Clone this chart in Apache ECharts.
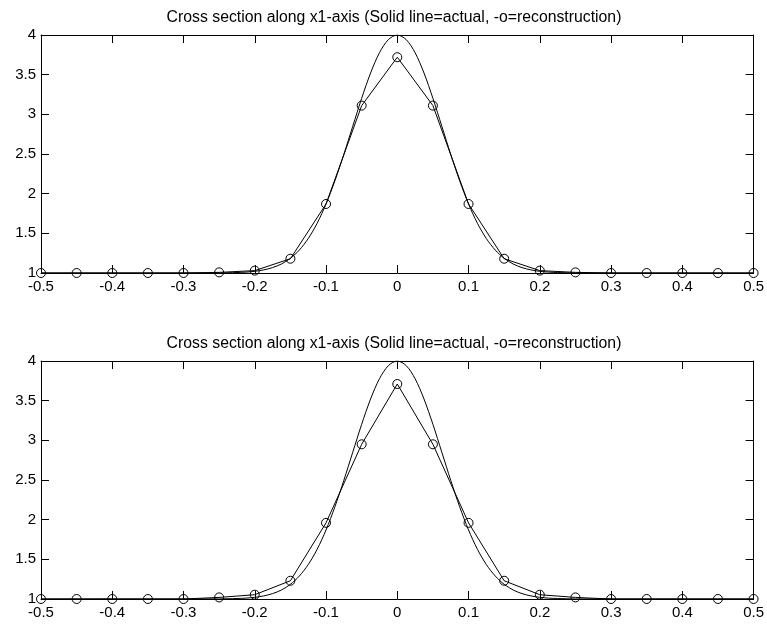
<!DOCTYPE html>
<html>
<head>
<meta charset="utf-8">
<script src="https://cdn.jsdelivr.net/npm/echarts@6/dist/echarts.min.js"></script>
<style>
  html, body { margin: 0; padding: 0; background: #fff; }
  #main { width: 767px; height: 624px; }
</style>
</head>
<body>
<div id="main"></div>
<script>
// chart title (same for both panels)
var titleText = 'Cross section along x1-axis (Solid line=actual, -o=reconstruction)';

// sample points of the reconstruction (-o)
var xRecon = [-0.5, -0.45, -0.4, -0.35, -0.3, -0.25, -0.2, -0.15, -0.1, -0.05, 0,
              0.05, 0.1, 0.15, 0.2, 0.25, 0.3, 0.35, 0.4, 0.45, 0.5];
var reconTop = [1, 1, 1, 1, 1, 1.008, 1.03, 1.18, 1.87, 3.11, 3.72,
                3.11, 1.87, 1.18, 1.03, 1.008, 1, 1, 1, 1, 1];
var reconBottom = [1, 1, 1, 1, 1, 1.02, 1.054, 1.23, 1.96, 2.95, 3.71,
                   2.95, 1.96, 1.23, 1.054, 1.02, 1, 1, 1, 1, 1];

// actual profile (solid line)
var xActual = [-0.5, -0.25, -0.2375, -0.225, -0.2125, -0.2, -0.1875, -0.175, -0.1625, -0.15,
               -0.1375, -0.125, -0.1125, -0.1, -0.0875, -0.075, -0.0625, -0.05, -0.0375, -0.025,
               -0.0125, 0, 0.0125, 0.025, 0.0375, 0.05, 0.0625, 0.075, 0.0875, 0.1,
               0.1125, 0.125, 0.1375, 0.15, 0.1625, 0.175, 0.1875, 0.2, 0.2125, 0.225,
               0.2375, 0.25, 0.5];
var actual = [1, 1.001, 1.003, 1.006, 1.011, 1.021, 1.039, 1.068, 1.114, 1.185,
              1.289, 1.434, 1.626, 1.87, 2.163, 2.496, 2.85, 3.202, 3.521, 3.777,
              3.942, 4, 3.942, 3.777, 3.521, 3.202, 2.85, 2.496, 2.163, 1.87,
              1.626, 1.434, 1.289, 1.185, 1.114, 1.068, 1.039, 1.021, 1.011, 1.006,
              1.003, 1.001, 1];

var chartDom = document.getElementById('main');
var myChart = echarts.init(chartDom);
var font = '"Liberation Sans", Arial, Helvetica, sans-serif';

function pairs(xs, ys) {
    return xs.map(function (x, i) { return [x, ys[i]]; });
}

function xAxisFor(gridIndex, pos, labels) {
    return {
        type: 'value', gridIndex: gridIndex, position: pos,
        min: -0.5, max: 0.5, interval: 0.1,
        axisLine: { show: true, onZero: false, lineStyle: { color: '#000', width: 1 } },
        axisTick: { show: true, inside: true, length: 8, lineStyle: { color: '#000' } },
        axisLabel: {
            show: labels, margin: 6, color: '#000', fontSize: 15, fontFamily: font,
            formatter: function (v) { return String(+v.toFixed(1)); }
        },
        splitLine: { show: false }
    };
}

function yAxisFor(gridIndex, pos, labels) {
    return {
        type: 'value', gridIndex: gridIndex, position: pos,
        min: 1, max: 4, interval: 0.5,
        axisLine: { show: true, onZero: false, lineStyle: { color: '#000', width: 1 } },
        axisTick: { show: true, inside: true, length: 8, lineStyle: { color: '#000' } },
        axisLabel: {
            show: labels, margin: 5, color: '#000', fontSize: 15, fontFamily: font,
            formatter: function (v) { return String(+v.toFixed(1)); }
        },
        splitLine: { show: false }
    };
}

function actualSeries(axisIdx) {
    return {
        type: 'line', xAxisIndex: axisIdx, yAxisIndex: axisIdx,
        data: pairs(xActual, actual),
        smooth: 0.3, showSymbol: false, symbol: 'none',
        lineStyle: { color: '#000', width: 1 },
        animation: false, silent: true
    };
}

function reconSeries(axisIdx, ys) {
    return {
        type: 'line', xAxisIndex: axisIdx, yAxisIndex: axisIdx,
        data: pairs(xRecon, ys),
        symbol: 'circle', symbolSize: 9,
        itemStyle: { color: 'rgba(0,0,0,0)', borderColor: '#000', borderWidth: 1 },
        lineStyle: { color: '#000', width: 1 },
        animation: false, silent: true
    };
}

var option = {
    backgroundColor: '#fff',
    animation: false,
    graphic: [
        { type: 'text', x: 394, y: 18, style: { text: titleText, fill: '#000', font: '15.8px ' + font, align: 'center', verticalAlign: 'middle' } },
        { type: 'text', x: 394, y: 344, style: { text: titleText, fill: '#000', font: '15.8px ' + font, align: 'center', verticalAlign: 'middle' } }
    ],
    grid: [
        { left: 41, right: 10, top: 35, height: 238 },
        { left: 41, right: 10, top: 361, height: 238 }
    ],
    xAxis: [
        xAxisFor(0, 'bottom', true),
        xAxisFor(1, 'bottom', true),
        xAxisFor(0, 'top', false),
        xAxisFor(1, 'top', false)
    ],
    yAxis: [
        yAxisFor(0, 'left', true),
        yAxisFor(1, 'left', true),
        yAxisFor(0, 'right', false),
        yAxisFor(1, 'right', false)
    ],
    series: [
        actualSeries(0),
        reconSeries(0, reconTop),
        actualSeries(1),
        reconSeries(1, reconBottom)
    ]
};

myChart.setOption(option);
</script>
</body>
</html>
